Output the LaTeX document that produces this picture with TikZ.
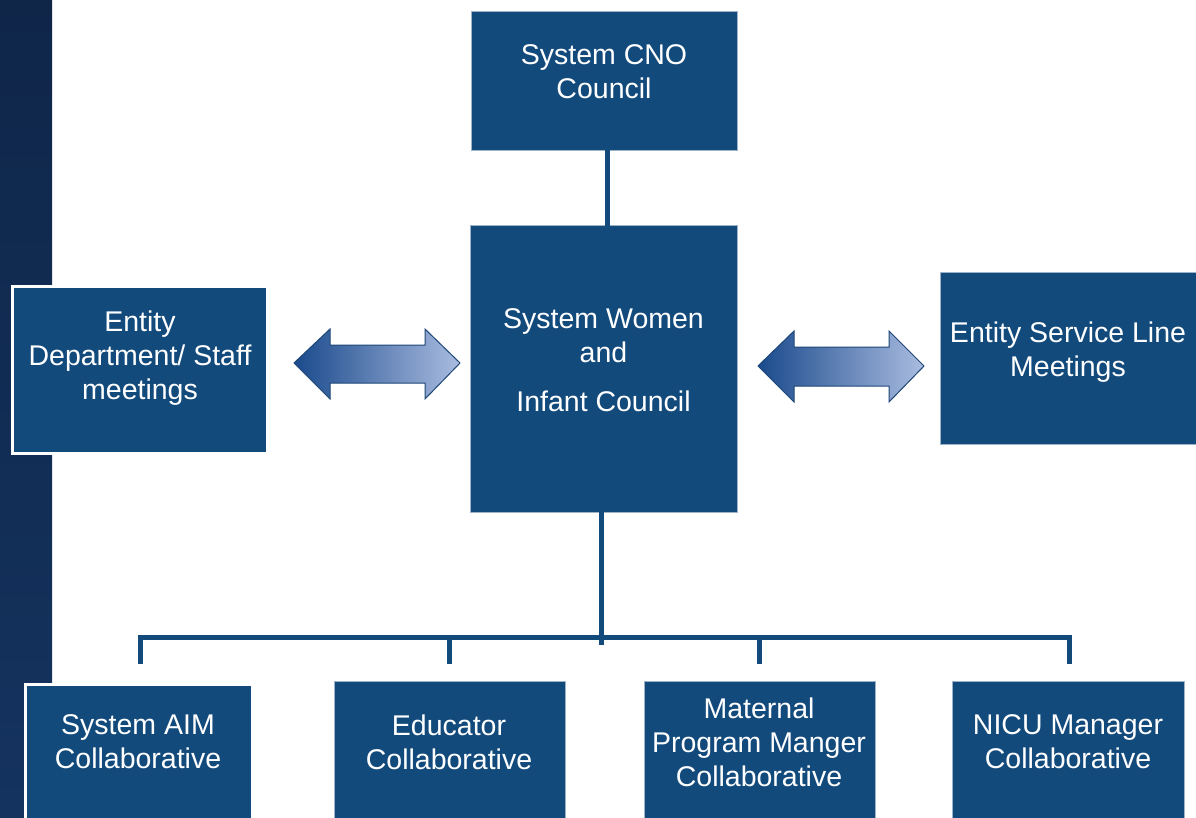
\documentclass[tikz,border=0pt]{standalone}
\usepackage{fontspec}
\setmainfont{Liberation Sans}
\definecolor{boxblue}{HTML}{134A7C}
\definecolor{stripA}{HTML}{0F2649}
\definecolor{stripB}{HTML}{14335F}
\definecolor{arrowdark}{HTML}{1A4A8C}
\definecolor{arrowlight}{HTML}{AABCE0}
\definecolor{arrowedge}{HTML}{1E4778}
\definecolor{edgegray}{HTML}{9FB3C8}
\begin{document}
\begin{tikzpicture}[x=1pt,y=-1pt,
  box/.style={draw=edgegray,line width=0.8pt,fill=boxblue,inner sep=0pt,anchor=north west},
  wbox/.style={box,draw=white,line width=3pt},
  lbl/.style={text=white,align=center,font=\fontsize{28.5}{34}\selectfont,inner sep=0pt},
  conn/.style={draw=boxblue,line width=5pt},
  dbl/.style={draw=arrowedge,line width=1pt,left color=arrowdark,right color=arrowlight}]
\useasboundingbox (0,0) rectangle (1196,818);
\fill[white] (0,0) rectangle (1196,818);
\shade[top color=stripA,bottom color=stripB] (0,0) rectangle (52,818);
% boxes
\node[box,minimum width=266pt,minimum height=139pt] (cno) at (471,11) {};
\node[box,minimum width=267pt,minimum height=287pt] (women) at (470,225) {};
\node[wbox,minimum width=255pt,minimum height=167pt] (dept) at (11,285) {};
\node[box,minimum width=256pt,minimum height=172pt] (svc) at (940,272) {};
\node[wbox,minimum width=227pt,minimum height=140pt] (aim) at (24,683) {};
\node[box,minimum width=231pt,minimum height=140pt] (edu) at (334,681) {};
\node[box,minimum width=231pt,minimum height=140pt] (mat) at (644,681) {};
\node[box,minimum width=232pt,minimum height=140pt] (nicu) at (952,681) {};
% labels
\node[lbl] (cnoT) at (604,72) {System CNO\\Council};
\node[lbl] (womenT) at (603.5,336) {System Women\\and};
\node[lbl] (womenT2) at (603.5,401) {Infant Council};
\node[lbl] (deptT) at (140,358) {Entity\\Department/ Staff\\meetings};
\node[lbl] (svcT) at (1068,352) {Entity Service Line\\Meetings};
\node[lbl] (aimT) at (138,742) {System AIM\\Collaborative};
\node[lbl] (eduT) at (449,742) {Educator\\Collaborative};
\node[lbl] (matT) at (759,742) {Maternal\\Program Manger\\Collaborative};
\node[lbl] (nicuT) at (1068,742) {NICU Manager\\Collaborative};
% connectors
\coordinate (t1) at (607,150);
\coordinate (t2) at (607,234);
\draw[conn] (t1) -- (t2);
\coordinate (b1) at (601,512);
\coordinate (b2) at (601,645);
\draw[conn] (b1) -- (b2);
\coordinate (busL) at (137.5,637);
\coordinate (busR) at (1071.5,637);
\draw[conn] (busL) -- (busR);
\foreach \x/\n in {140/aim,449/edu,759/mat,1069/nicu}{
  \coordinate (d\n) at (\x,637);
  \coordinate (e\n) at (\x,664);
  \draw[conn] (d\n) -- (e\n);
}
% double arrows
\shade[dbl] (294,363) -- (330,329) -- (330,345) -- (425,345) -- (425,329) -- (460,363)
  -- (425,399) -- (425,383) -- (330,383) -- (330,399) -- cycle;
\shade[dbl] (758,366) -- (794,331) -- (794,347) -- (889,347) -- (889,331) -- (924,366)
  -- (889,402) -- (889,386) -- (794,386) -- (794,402) -- cycle;
\end{tikzpicture}
\end{document}
